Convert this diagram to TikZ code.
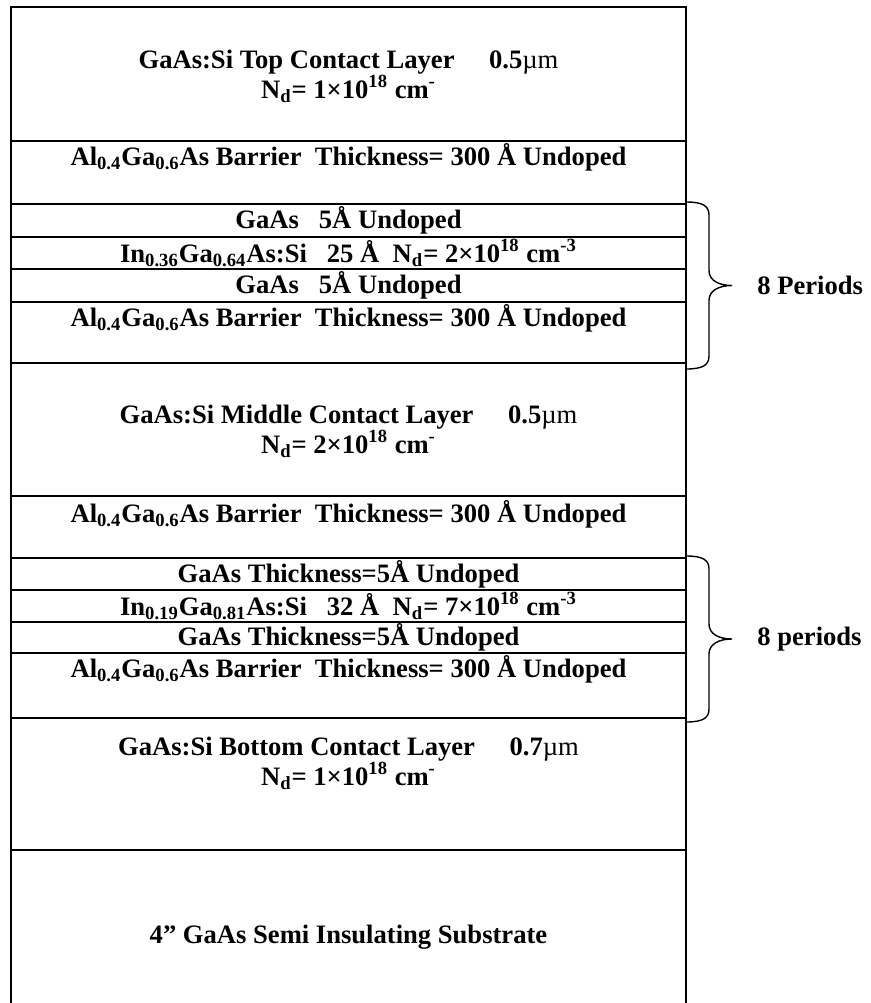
\documentclass[tikz,border=0pt]{standalone}
\usepackage{fontspec}
\setmainfont{Liberation Serif}
\usetikzlibrary{positioning}

\newcommand{\barrier}{Al\textsubscript{0.4}Ga\textsubscript{0.6}As Barrier\ \ Thickness= 300 Å Undoped}
\newcommand{\um}{\textmd{µm}}

\begin{document}
\begin{tikzpicture}[x=0.5pt,y=-0.5pt,
    wall/.style={line width=1pt},
    layertext/.style={font=\fontsize{13.3}{13.6}\selectfont\bfseries, inner sep=0pt, align=center},
    bracepath/.style={line width=0.7pt},
  ]
  % Parameters
  \def\xl{11} % left wall of the stack
  \def\xr{686} % right wall of the stack
  \def\xm{348.5} % centre of the stack

  % Page with its margins
  \path[fill=white,use as bounding box] (0,0) rectangle (871,1003);

  % Walls of the stack (open at the bottom)
  \draw[wall] (\xl,1003) -- (\xl,7) -- (\xr,7) -- (\xr,1003);

  % Interfaces between the layers
  \foreach \y in {141,204,237,269,302,363,496,558,590,622,653,718,850} {
      \draw[wall] (\xl,\y) -- (\xr,\y);
  }

  % Contact layers and substrate
  \node[layertext] (top) at (\xm,62) {GaAs:Si Top Contact Layer\hspace{1.3em}0.5\um};
  \node[layertext] (topNd) at (\xm,89) {N\textsubscript{d}= 1×10\textsuperscript{18} cm\textsuperscript{-}};
  \node[layertext] (middle) at (\xm,417) {GaAs:Si Middle Contact Layer\hspace{1.3em}0.5\um};
  \node[layertext] (middleNd) at (\xm,444) {N\textsubscript{d}= 2×10\textsuperscript{18} cm\textsuperscript{-}};
  \node[layertext] (bottom) at (\xm,749) {GaAs:Si Bottom Contact Layer\hspace{1.3em}0.7\um};
  \node[layertext] (bottomNd) at (\xm,776) {N\textsubscript{d}= 1×10\textsuperscript{18} cm\textsuperscript{-}};
  \node[layertext] (subst) at (\xm,937) {4” GaAs Semi Insulating Substrate};

  % Barriers
  \foreach \y [count=\k] in {157,318,514,669} {
      \node[layertext] (bar\k) at (\xm,\y) {\barrier};
  }

  % Upper quantum well period
  \node[layertext] (gaas1a) at (\xm,220.5) {GaAs\ \ \ 5Å Undoped};
  \node[layertext] (ingaas1) at (\xm,253) {In\textsubscript{0.36}Ga\textsubscript{0.64}As:Si\ \ \ 25 Å\ \ N\textsubscript{d}= 2×10\textsuperscript{18} cm\textsuperscript{-3}};
  \node[layertext] (gaas1b) at (\xm,285.5) {GaAs\ \ \ 5Å Undoped};

  % Lower quantum well period
  \node[layertext] (gaas2a) at (\xm,574) {GaAs Thickness=5Å Undoped};
  \node[layertext] (ingaas2) at (\xm,606) {In\textsubscript{0.19}Ga\textsubscript{0.81}As:Si\ \ \ 32 Å\ \ N\textsubscript{d}= 7×10\textsuperscript{18} cm\textsuperscript{-3}};
  \node[layertext] (gaas2b) at (\xm,637.5) {GaAs Thickness=5Å Undoped};

  % Braces for the periods
  \foreach \ytop/\ybot/\lbl [count=\k] in {202/369/{8 Periods}, 556/722/{8 periods}} {
      \pgfmathsetmacro{\ymid}{(\ytop+\ybot)/2}
      \coordinate (tip\k) at (732,\ymid);
      \draw[bracepath] (\xr,\ytop) .. controls +(17,0) and +(0,-9) .. ++(23,13)
          -- ({709},{\ymid-15}) .. controls +(0,10) and +(-13,0) .. (tip\k)
          .. controls +(-13,0) and +(0,-10) .. ({709},{\ymid+15})
          -- ({709},{\ybot-13}) .. controls +(0,9) and +(17,0) .. (\xr,\ybot);
      \node[layertext, anchor=west, right=12.5pt of tip\k] (period\k) {\lbl};
  }
\end{tikzpicture}
\end{document}
